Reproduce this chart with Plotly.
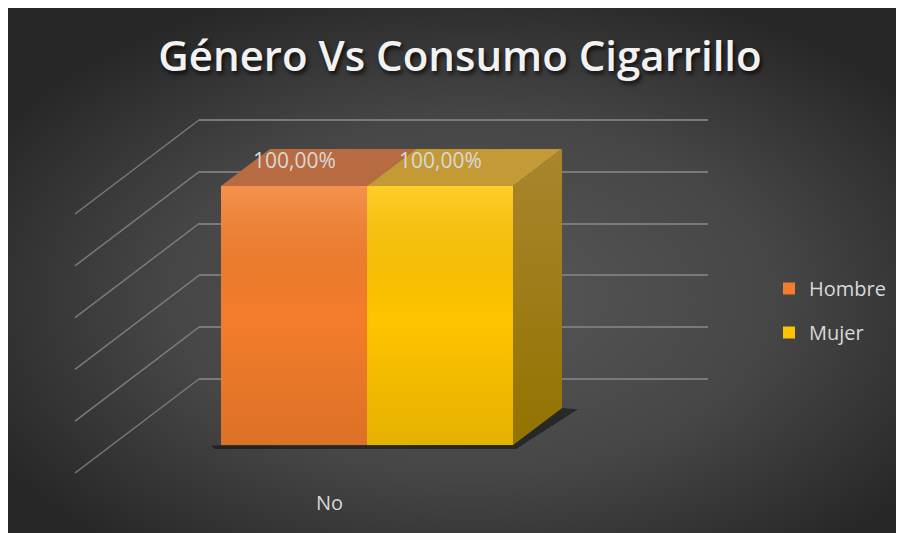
import base64
import plotly.graph_objects as go

# ---------------- data ----------------
categories = ["No"]
series_names = ["Hombre", "Mujer"]
hombre = [100.0]
mujer = [100.0]
grid_ticks = [0, 20, 40, 60, 80, 100]
title_text = "Género Vs Consumo Cigarrillo"

# ---------------- styling ----------------
front_colors = ["#F47D2B", "#FFC400"]
top_colors = ["#B86B40", "#C39A36"]
side_scale = [[0, "#937300"], [1, "#A9852E"]]
grid_color = "#7A7A7A"
label_color = "#D9D9D9"

# page offset of the plot inside the browser page (body margin)
OFF = 8
W, H = 891, 525


def fx(p):
    return (p - OFF) / W


def fy(p):
    return 1 - (p - OFF) / H


fig = go.Figure()

# ---- back wall (subplot x/y): value 0 at 379px, value 100 at 120px
wall_left, wall_right = 199, 708
wall_top_px, wall_bot_px = 120, 379
wall_max = 100.0
wall_ppu = (wall_bot_px - wall_top_px) / wall_max
wall_range = [-1, wall_max + 1]
wall_dom_y = [fy(wall_bot_px + wall_ppu), fy(wall_top_px - wall_ppu)]

fig.add_trace(go.Scatter(x=[0.5], y=[50], mode="markers", marker=dict(opacity=0),
                         showlegend=False, hoverinfo="skip", xaxis="x", yaxis="y"))

# ---- bars (subplot x2/y2): value 0 at 445px, 100 at 186px; 1 x-unit = 292px
base_px, ppu2 = 445, (445 - 186) / 100.0
center_px, ppux = 367, 292.0
b_dom_px = [112, 472]
b_dom_x_px = [140, 660]
y2_range = [(base_px - b_dom_px[1]) / ppu2, (base_px - b_dom_px[0]) / ppu2]
x2_range = [(b_dom_x_px[0] - center_px) / ppux, (b_dom_x_px[1] - center_px) / ppux]
dx = 49 / ppux
dy = 37 / ppu2

positions = list(range(len(categories)))
series_values = [hombre, mujer]
n = len(series_values)

for i, (name, vals) in enumerate(zip(series_names, series_values)):
    fig.add_trace(go.Bar(x=positions, y=vals, name=name,
                         marker=dict(color=front_colors[i], line=dict(width=0)),
                         legendgroup=name, xaxis="x2", yaxis="y2", hoverinfo="skip"))

shapes = []
annotations = []

for p_i, p in enumerate(positions):
    for i, vals in enumerate(series_values):
        v = vals[p_i]
        l = p - 0.5 + i / n
        r = l + 1.0 / n
        # front shading overlay
        fig.add_trace(go.Scatter(
            x=[l, r, r, l, l], y=[0, 0, v, v, 0], mode="lines", fill="toself",
            line=dict(width=0), fillcolor="rgba(0,0,0,0)",
            fillgradient=dict(type="vertical",
                              colorscale=[[0, "rgba(0,0,0,0.10)"], [0.5, "rgba(0,0,0,0)"],
                                          [1, "rgba(255,255,255,0.16)"]]),
            showlegend=False, hoverinfo="skip", xaxis="x2", yaxis="y2"))
        # top face
        fig.add_trace(go.Scatter(
            x=[l, r, r + dx, l + dx, l], y=[v, v, v + dy, v + dy, v], mode="lines",
            fill="toself", fillcolor=top_colors[i], line=dict(width=0),
            showlegend=False, hoverinfo="skip", xaxis="x2", yaxis="y2"))
        # data label
        annotations.append(dict(
            x=(l + r) / 2, y=v, xref="x2", yref="y2", yshift=26, showarrow=False,
            text=f"{v:.2f}".replace(".", ",") + "%",
            font=dict(family="Open Sans", size=21, color=label_color)))
        if i == n - 1:
            # right side face
            fig.add_trace(go.Scatter(
                x=[r, r + dx, r + dx, r, r], y=[0, dy, v + dy, v, 0], mode="lines",
                fill="toself", fillcolor="#A07E1A", line=dict(width=0),
                fillgradient=dict(type="vertical", colorscale=side_scale),
                showlegend=False, hoverinfo="skip", xaxis="x2", yaxis="y2"))
            # floor shadow
            l0 = p - 0.5
            sx, sy = 10 / ppux, 4 / ppu2
            path = (f"M {l0 - sx},{-0.2} L {l0 - sx * 0.6},{-sy} L {r + sx * 0.3},{-sy} "
                    f"L {r + dx + sx * 1.6},{dy - sy * 0.3} L {r + dx},{dy} L {r},0 Z")
            shapes.append(dict(type="path", path=path, xref="x2", yref="y2", layer="below",
                               fillcolor="rgba(0,0,0,0.45)", line=dict(width=0)))
    # category label
    annotations.append(dict(
        x=p, y=0, xref="x2", yref="y2", xshift=-38, yshift=-57, showarrow=False,
        text=categories[p_i], font=dict(family="Open Sans", size=20, color=label_color)))

# diagonal floor/side gridlines
for t in grid_ticks:
    shapes.append(dict(
        type="line", xref="x domain", yref="y domain", xsizemode="pixel", ysizemode="pixel",
        xanchor=0, yanchor=(t - wall_range[0]) / (wall_range[1] - wall_range[0]),
        x0=0, x1=-124, y0=0, y1=-94, layer="below",
        line=dict(color=grid_color, width=1.5)))

# background radial gradient
svg = (f'<svg xmlns="http://www.w3.org/2000/svg" width="{W}" height="{H}" '
       f'viewBox="0 0 {W} {H}"><defs><radialGradient id="g" cx="52%" cy="55%" r="62%">'
       f'<stop offset="0" stop-color="#585858"/><stop offset="0.55" stop-color="#464646"/>'
       f'<stop offset="1" stop-color="#272727"/></radialGradient></defs>'
       f'<rect width="{W}" height="{H}" fill="url(#g)"/></svg>')
src = "data:image/svg+xml;base64," + base64.b64encode(svg.encode()).decode()

fig.update_layout(
    width=W, height=H, autosize=False,
    margin=dict(l=0, r=0, t=0, b=0),
    paper_bgcolor="#262626", plot_bgcolor="rgba(0,0,0,0)",
    barmode="group", bargap=0, bargroupgap=0,
    images=[dict(source=src, xref="paper", yref="paper", x=0, y=1,
                 sizex=1, sizey=1, sizing="stretch",
                 xanchor="left", yanchor="top", layer="below")],
    title=dict(text=title_text, x=fx(460), y=fy(56), xanchor="center", yanchor="middle",
               font=dict(family="Open Sans", size=42, weight=600, color="#F2F2F2",
                         shadow="2px 3px 4px rgba(0,0,0,0.75)")),
    xaxis=dict(domain=[fx(wall_left), fx(wall_right)], range=[0, 1], visible=False,
               showgrid=False, zeroline=False),
    yaxis=dict(domain=wall_dom_y, range=wall_range, tickvals=grid_ticks, showgrid=True,
               gridcolor=grid_color, gridwidth=1.5, showticklabels=False, zeroline=False,
               showline=False, ticks=""),
    xaxis2=dict(domain=[fx(b_dom_x_px[0]), fx(b_dom_x_px[1])], range=x2_range, anchor="y2",
                visible=False, showgrid=False, zeroline=False),
    yaxis2=dict(domain=[fy(b_dom_px[1]), fy(b_dom_px[0])], range=y2_range, anchor="x2",
                visible=False, showgrid=False, zeroline=False),
    legend=dict(x=fx(769), y=fy(269), xanchor="left", yanchor="top",
                traceorder="grouped", tracegroupgap=15, bgcolor="rgba(0,0,0,0)",
                font=dict(family="Open Sans", size=20, color=label_color)),
    shapes=shapes, annotations=annotations,
)

fig.write_html("out.html")
